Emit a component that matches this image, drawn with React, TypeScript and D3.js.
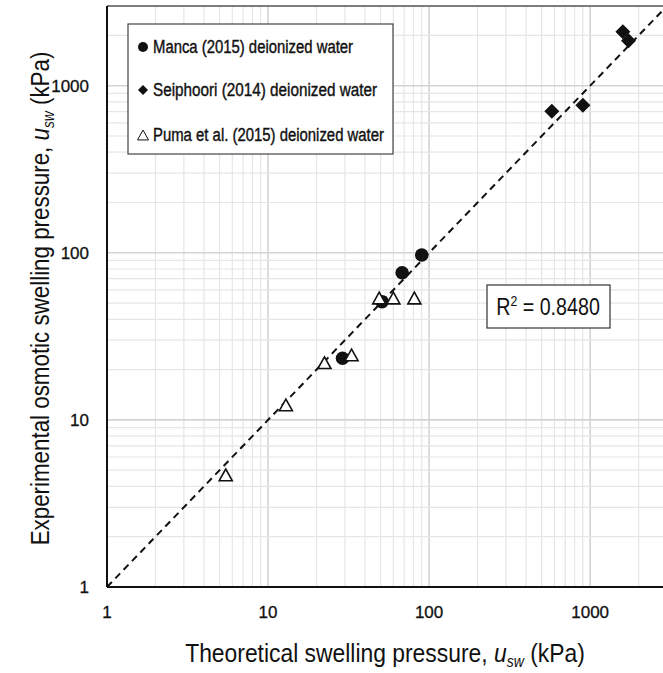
import React from "react";
import * as d3 from "d3";

// Manca (2015) deionized water
const mancaX = [90, 68, 51, 29];
const mancaY = [97, 76, 51, 23.4];
// Seiphoori (2014) deionized water
const seiphooriX = [1596, 1730, 901, 578];
const seiphooriY = [2105, 1860, 764, 704];
// Puma et al. (2015) deionized water
const pumaX = [49, 60, 81, 33, 22.4, 12.9, 5.46];
const pumaY = [53.6, 53.6, 53.6, 24.5, 22, 12.3, 4.69];

const decadeTicks = [1, 10, 100, 1000];
const legendLabels = [
  "Manca (2015) deionized water",
  "Seiphoori (2014) deionized water",
  "Puma et al. (2015) deionized water",
];
const r2Label = "0.8480";

const W = 663;
const H = 673;
const font = "'Liberation Sans', Arial, sans-serif";

const tri = (cx: number, cy: number, s: number) => {
  const h = s * 0.9;
  return `M${cx},${cy - h / 2}L${cx + s / 2},${cy + h / 2}L${cx - s / 2},${cy + h / 2}Z`;
};
const diamond = (cx: number, cy: number, s: number) =>
  `M${cx},${cy - s / 2}L${cx + s / 2},${cy}L${cx},${cy + s / 2}L${cx - s / 2},${cy}Z`;

export default function App() {
  const x = d3.scaleLog().domain([1, 3000]).range([107, 667]);
  const y = d3.scaleLog().domain([1, 3000]).range([587, 6]);
  const [x0, x1] = x.range();
  const [y0, y1] = y.range();
  const gridX = x.ticks();
  const gridY = y.ticks();
  const isMajor = (v: number) => decadeTicks.includes(v);

  const manca = mancaX.map((v, i) => [x(v), y(mancaY[i])]);
  const seip = seiphooriX.map((v, i) => [x(v), y(seiphooriY[i])]);
  const puma = pumaX.map((v, i) => [x(v), y(pumaY[i])]);

  const lineEnd = 3000;

  return (
    <svg
      width={W}
      height={H}
      style={{ position: "absolute", left: 0, top: 0, background: "#fff" }}
    >
      <defs>
        <clipPath id="plot">
          <rect x={x0} y={y1} width={x1 - x0} height={y0 - y1} />
        </clipPath>
      </defs>
      <g clipPath="url(#plot)">
        {gridX.map((v) => (
          <line
            key={"gx" + v}
            x1={x(v)}
            x2={x(v)}
            y1={y0}
            y2={y1}
            stroke={isMajor(v) ? "#d4d4d4" : "#e6e6e6"}
            strokeWidth={isMajor(v) ? 1.6 : 1.2}
          />
        ))}
        {gridY.map((v) => (
          <line
            key={"gy" + v}
            x1={x0}
            x2={x1}
            y1={y(v)}
            y2={y(v)}
            stroke={isMajor(v) ? "#d4d4d4" : "#e6e6e6"}
            strokeWidth={isMajor(v) ? 1.6 : 1.2}
          />
        ))}
        <line
          x1={x(1)}
          y1={y(1)}
          x2={x(lineEnd)}
          y2={y(lineEnd)}
          stroke="#111"
          strokeWidth={2}
          strokeDasharray="7,5"
        />
        {manca.map(([cx, cy], i) => (
          <circle key={"m" + i} cx={cx} cy={cy} r={6.8} fill="#111" />
        ))}
        {seip.map(([cx, cy], i) => (
          <path key={"s" + i} d={diamond(cx, cy, 15)} fill="#111" />
        ))}
        {puma.map(([cx, cy], i) => (
          <path
            key={"p" + i}
            d={tri(cx, cy, 13)}
            fill="#fff"
            stroke="#111"
            strokeWidth={1.6}
          />
        ))}
      </g>
      {/* frame */}
      <line x1={x0} x2={x1} y1={y1} y2={y1} stroke="#555" strokeWidth={1.5} />
      <line x1={x0} x2={x0} y1={y1} y2={y0} stroke="#111" strokeWidth={2} />
      <line x1={x0} x2={x1} y1={y0} y2={y0} stroke="#111" strokeWidth={2} />

      {/* tick labels */}
      {decadeTicks.map((v) => (
        <text
          key={"tx" + v}
          x={x(v)}
          y={y0 + 31}
          textAnchor="middle"
          fontFamily={font}
          fontSize={17}
          fill="#111"
          stroke="#111"
          strokeWidth={0.3}
        >
          {v}
        </text>
      ))}
      {decadeTicks.map((v) => (
        <text
          key={"ty" + v}
          x={89}
          y={y(v) + 6}
          textAnchor="end"
          fontFamily={font}
          fontSize={17}
          fill="#111"
          stroke="#111"
          strokeWidth={0.3}
        >
          {v}
        </text>
      ))}

      {/* legend */}
      <rect
        x={128}
        y={24}
        width={265}
        height={130}
        fill="#fff"
        stroke="#444"
        strokeWidth={1.2}
      />
      <circle cx={143} cy={47} r={5} fill="#111" />
      <path d={diamond(143, 90, 10)} fill="#111" />
      <path d={tri(143, 135, 11)} fill="none" stroke="#111" strokeWidth={1} />
      {legendLabels.map((t, i) => (
        <text
          key={t}
          x={153}
          y={[47, 90, 135][i] + 6}
          fontFamily={font}
          fontSize={18}
          fill="#111"
          stroke="#111"
          strokeWidth={0.4}
          textLength={[200, 224, 231][i]}
          lengthAdjust="spacingAndGlyphs"
        >
          {t}
        </text>
      ))}

      {/* R2 box */}
      <rect
        x={487}
        y={285}
        width={123}
        height={43}
        fill="#fff"
        stroke="#333"
        strokeWidth={1.2}
      />
      <g transform="translate(548,315) scale(0.82,1)">
        <text
          x={0}
          y={0}
          textAnchor="middle"
          fontFamily={font}
          fontSize={24}
          fill="#111"
        >
          R<tspan fontSize={15} dy={-9}>2</tspan>
          <tspan dy={9}> = {r2Label}</tspan>
        </text>
      </g>

      {/* axis titles */}
      <g transform={`translate(${(x0 + 663) / 2},662) scale(0.88,1)`}>
        <text
          x={0}
          y={0}
          textAnchor="middle"
          fontFamily={font}
          fontSize={26}
          fill="#111"
        >
          Theoretical swelling pressure,{" "}
          <tspan fontStyle="italic">u</tspan>
          <tspan fontStyle="italic" fontSize={16} dy={5}>
            sw
          </tspan>
          <tspan dy={-5}> (kPa)</tspan>
        </text>
      </g>
      <g transform={`translate(49,${(y0 + y1) / 2 + 2}) rotate(-90) scale(0.86,1)`}>
        <text
          x={0}
          y={0}
          textAnchor="middle"
          fontFamily={font}
          fontSize={26}
          fill="#111"
        >
          Experimental osmotic swelling pressure,{" "}
          <tspan fontStyle="italic">u</tspan>
          <tspan fontStyle="italic" fontSize={16} dy={5}>
            sw
          </tspan>
          <tspan dy={-5}> (kPa)</tspan>
        </text>
      </g>
    </svg>
  );
}
